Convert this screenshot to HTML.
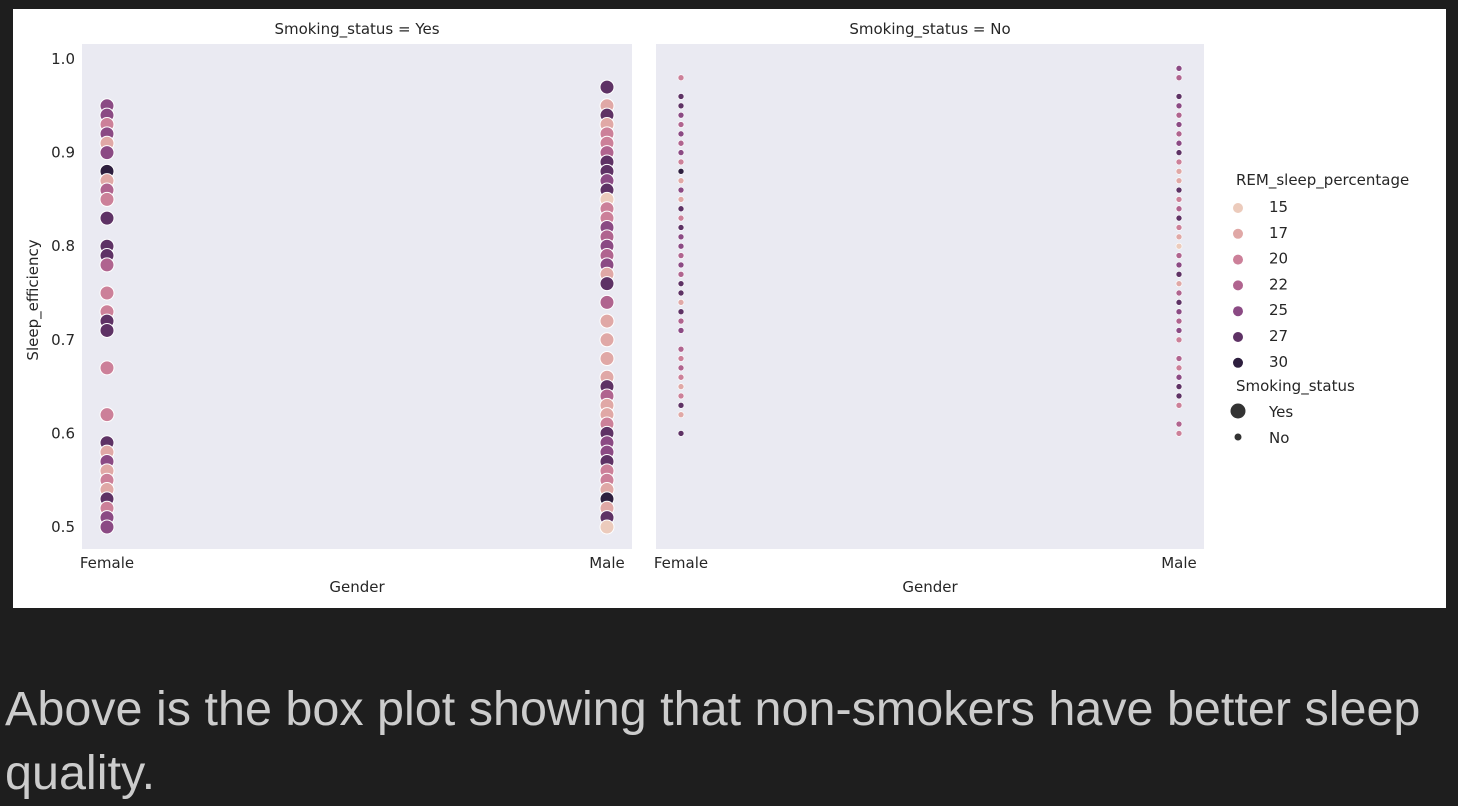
<!DOCTYPE html>
<html><head><meta charset="utf-8"><style>
html,body{margin:0;padding:0;background:#1e1e1e;width:1458px;height:806px;overflow:hidden}
svg{position:absolute;left:0;top:0}
#caption{position:absolute;left:5px;top:677px;width:1450px;font-family:"Liberation Sans",sans-serif;font-size:48.5px;line-height:64px;color:#cccccc}
</style></head><body>
<svg id="chart" width="1458" height="806"></svg>
<div id="caption">Above is the box plot showing that non-smokers have better sleep quality.</div>
<script>
const genders=["Female","Male"];
const yTicks=[0.5,0.6,0.7,0.8,0.9,1.0];
const legendRem=[15,17,20,22,25,27,30];
// [sleep_efficiency, REM]
const yesFemale=[[0.95,25],[0.94,25],[0.93,20],[0.92,25],[0.91,17],[0.90,25],[0.88,30],[0.87,17],[0.86,22],[0.85,20],[0.83,27],[0.80,27],[0.79,27],[0.78,22],[0.75,20],[0.73,20],[0.72,27],[0.71,27],[0.67,20],[0.62,20],[0.59,27],[0.58,17],[0.57,25],[0.56,17],[0.55,20],[0.54,17],[0.53,27],[0.52,20],[0.51,25],[0.50,25]];
const yesMale=[[0.97,27],[0.95,17],[0.94,27],[0.93,17],[0.92,20],[0.91,20],[0.90,22],[0.89,27],[0.88,27],[0.87,25],[0.86,27],[0.85,15],[0.84,20],[0.83,20],[0.82,25],[0.81,22],[0.80,25],[0.79,22],[0.78,25],[0.77,17],[0.76,27],[0.74,22],[0.72,17],[0.70,17],[0.68,17],[0.66,17],[0.65,27],[0.64,22],[0.63,17],[0.62,17],[0.61,20],[0.60,27],[0.59,25],[0.58,25],[0.57,27],[0.56,20],[0.55,20],[0.54,17],[0.53,30],[0.52,17],[0.51,27],[0.50,15]];
const noFemale=[[0.98,20],[0.96,27],[0.95,27],[0.94,25],[0.93,22],[0.92,25],[0.91,22],[0.90,25],[0.89,20],[0.88,30],[0.87,17],[0.86,25],[0.85,17],[0.84,27],[0.83,20],[0.82,27],[0.81,25],[0.80,25],[0.79,22],[0.78,25],[0.77,22],[0.76,27],[0.75,27],[0.74,17],[0.73,27],[0.72,22],[0.71,25],[0.69,22],[0.68,20],[0.67,22],[0.66,20],[0.65,17],[0.64,20],[0.63,27],[0.62,17],[0.60,27]];
const noMale=[[0.99,25],[0.98,22],[0.96,27],[0.95,25],[0.94,22],[0.93,25],[0.92,22],[0.91,25],[0.90,27],[0.89,20],[0.88,17],[0.87,17],[0.86,27],[0.85,20],[0.84,22],[0.83,27],[0.82,20],[0.81,17],[0.80,15],[0.79,22],[0.78,25],[0.77,27],[0.76,17],[0.75,22],[0.74,27],[0.73,25],[0.72,22],[0.71,25],[0.70,20],[0.68,22],[0.67,20],[0.66,25],[0.65,27],[0.64,27],[0.63,20],[0.61,22],[0.60,20]];

const NS="http://www.w3.org/2000/svg";
const svg=document.getElementById('chart');
function mk(tag,attrs,parent){const e=document.createElementNS(NS,tag);for(const k in attrs)e.setAttribute(k,attrs[k]);(parent||svg).appendChild(e);return e;}
function txt(s,x,y,anchor,size,parent){const t=mk('text',{x:x,y:y,'text-anchor':anchor,'font-size':size,'font-family':'DejaVu Sans, Liberation Sans, sans-serif',fill:'#262626'},parent);t.textContent=s;return t;}
const stops=[[15,[236,203,188]],[17,[224,168,166]],[20,[204,128,153]],[22,[176,100,143]],[25,[139,74,132]],[27,[94,50,101]],[30,[45,30,62]]];
function color(v){if(v<=stops[0][0])return 'rgb('+stops[0][1]+')';for(let i=1;i<stops.length;i++){if(v<=stops[i][0]){const a=stops[i-1],b=stops[i];const f=(v-a[0])/(b[0]-a[0]);return 'rgb('+a[1].map((c,j)=>Math.round(c+(b[1][j]-c)*f)).join(',')+')';}}return 'rgb('+stops[stops.length-1][1]+')';}
const yScale=v=>527-(v-0.5)*936;

const bg=mk('rect',{x:13,y:9,width:1433,height:599,fill:'#ffffff'});



const panels=[{x0:82,x1:632,title:'Smoking_status = Yes',data:[yesFemale,yesMale],r:7,name:'yes'},{x0:656,x1:1204,title:'Smoking_status = No',data:[noFemale,noMale],r:3,name:'no'}];
panels.forEach((p,pi)=>{
  const g=mk('g',{});
  
  
  mk('rect',{x:p.x0,y:44,width:p.x1-p.x0,height:505,fill:'#eaeaf2'},g);
  const xScale=i=>p.x0+25+i*(p.x1-p.x0-50);
  const tt=txt(p.title,(p.x0+p.x1)/2,34,'middle',15,g);
  
  
  genders.forEach((gn,i)=>{
    const t=txt(gn,xScale(i),568,'middle',15,g);
    
    
  });
  const xl=txt('Gender',(p.x0+p.x1)/2,592,'middle',15,g);
  
  
  if(pi===0){
    yTicks.forEach(v=>{
      const t=txt(v.toFixed(1),75,yScale(v)+5,'end',15,g);
      
      
    });
    const yl=txt('Sleep_efficiency',38,300,'middle',15,g);
    yl.setAttribute('transform','rotate(-90 38 300)');
    
    
  }
  p.data.forEach((series,i)=>{
    series.forEach(d=>{
      const c=mk('circle',{cx:xScale(i),cy:yScale(d[0]),r:p.r,fill:color(d[1]),stroke:'#ffffff','stroke-width':p.r>4?1:0.6},g);
      
      
    });
  });
});

const lg=mk('g',{});


const lt=txt('REM_sleep_percentage',1236,185,'start',15,lg);


legendRem.forEach((v,i)=>{
  const y=205+i*25.8;
  const c=mk('circle',{cx:1238,cy:y+3,r:5,fill:color(v)},lg);
  
  
  const t=txt(String(v),1269,y+7,'start',15,lg);
  
  
});
const st=txt('Smoking_status',1236,391,'start',15,lg);


[['Yes',7.5,411],['No',3.5,437]].forEach(e=>{
  const c=mk('circle',{cx:1238,cy:e[2],r:e[1],fill:'#333333'},lg);
  
  
  const t=txt(e[0],1269,e[2]+6,'start',15,lg);
  
  
});
</script>
</body></html>
